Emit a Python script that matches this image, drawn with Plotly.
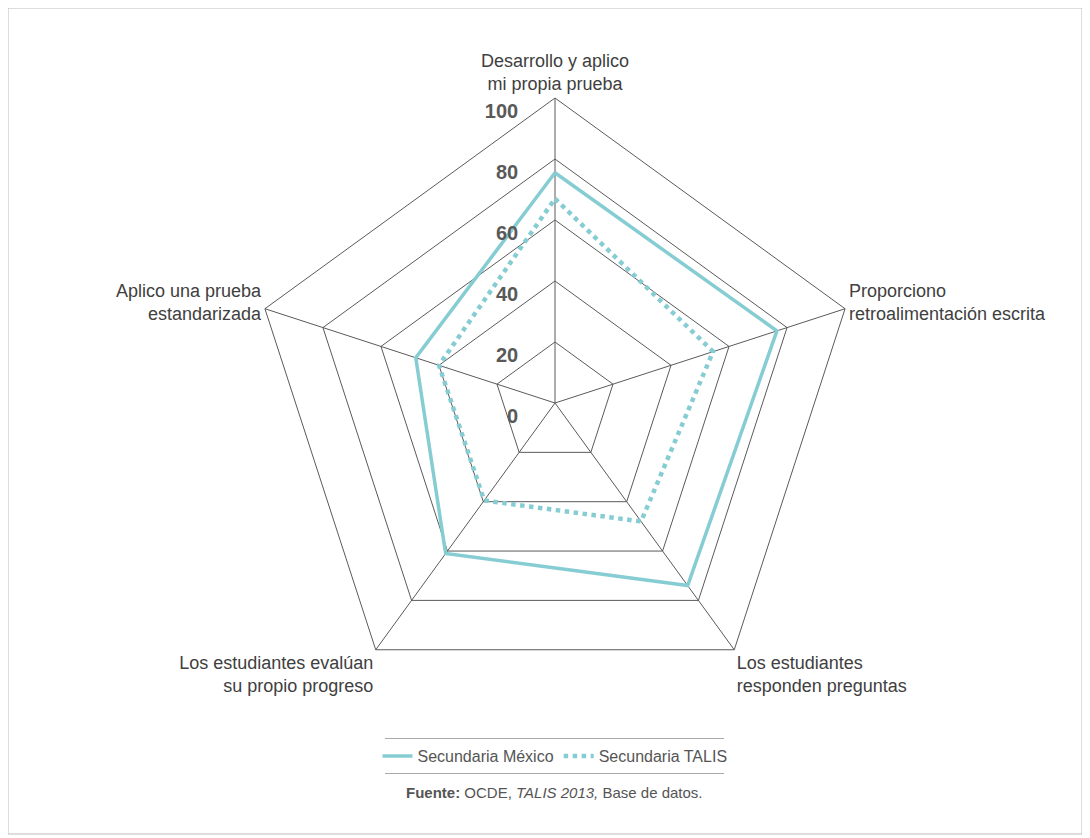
import plotly.graph_objects as go

categories = [
    "Desarrollo y aplico<br>mi propia prueba",
    "Proporciono<br>retroalimentación escrita",
    "Los estudiantes<br>responden preguntas",
    "Los estudiantes evalúan<br>su propio progreso",
    "Aplico una prueba<br>estandarizada",
]
mexico = [75.5, 76.5, 74, 61, 48]
talis = [67, 54.5, 48, 39.5, 40]
radial_ticks = [0, 20, 40, 60, 80, 100]

W, H = 1090, 838
OFF = 8  # page body margin
teal = "#86CDD3"
grid = "#5a5a5a"
font_family = "Liberation Sans, Arial, sans-serif"

def px(x):
    return (x - OFF) / W

def py(y):
    return 1 - (y - OFF) / H

cx, cy, r = 555, 403, 305

fig = go.Figure()
fig.add_trace(go.Scatterpolar(
    r=mexico + mexico[:1], theta=categories + categories[:1],
    mode="lines", name="Secundaria México",
    line=dict(color=teal, width=3.5),
))
fig.add_trace(go.Scatterpolar(
    r=talis + talis[:1], theta=categories + categories[:1],
    mode="lines", name="Secundaria TALIS",
    line=dict(color=teal, width=4.5, dash="dot"),
))

fig.update_layout(
    width=W, height=H,
    margin=dict(l=0, r=0, t=0, b=0),
    paper_bgcolor="white",
    font=dict(family=font_family, color="#404040"),
    polar=dict(
        domain=dict(x=[px(cx - r), px(cx + r)],
                    y=[py(cy + r), py(cy - r)]),
        bgcolor="white",
        gridshape="linear",
        angularaxis=dict(
            rotation=90, direction="clockwise",
            showline=True, linecolor=grid, linewidth=1,
            gridcolor=grid, gridwidth=1,
            ticks="", tickfont=dict(size=18, color="#404040"),
        ),
        radialaxis=dict(
            range=[0, 100], tickvals=radial_ticks,
            ticktext=["<br>" + str(v) + "\u00a0" * 6 for v in radial_ticks],
            angle=90, side="counterclockwise", tickangle=90,
            showline=False, ticks="",
            gridcolor=grid, gridwidth=1,
            tickfont=dict(size=20, color="#595959", weight="bold"),
        ),
    ),
    showlegend=True,
    legend=dict(
        orientation="h", x=px(555), xanchor="center",
        y=py(756), yanchor="middle",
        font=dict(size=16, color="#555555"),
    ),
    shapes=[
        dict(type="line", xref="paper", yref="paper",
             x0=px(385), x1=px(724), y0=py(739), y1=py(739),
             line=dict(color="#555555", width=1)),
        dict(type="line", xref="paper", yref="paper",
             x0=px(385), x1=px(724), y0=py(773), y1=py(773),
             line=dict(color="#555555", width=1)),
        dict(type="rect", xref="paper", yref="paper",
             x0=px(8), x1=px(1082), y0=py(834), y1=py(8),
             line=dict(color="#bbbbbb", width=1)),
    ],
    annotations=[
        dict(text="<b>Fuente:</b> OCDE, <i>TALIS 2013,</i> Base de datos.",
             xref="paper", yref="paper", x=px(555), y=py(803),
             showarrow=False, font=dict(size=15, color="#555555")),
    ],
)

fig.write_html("out.html")
